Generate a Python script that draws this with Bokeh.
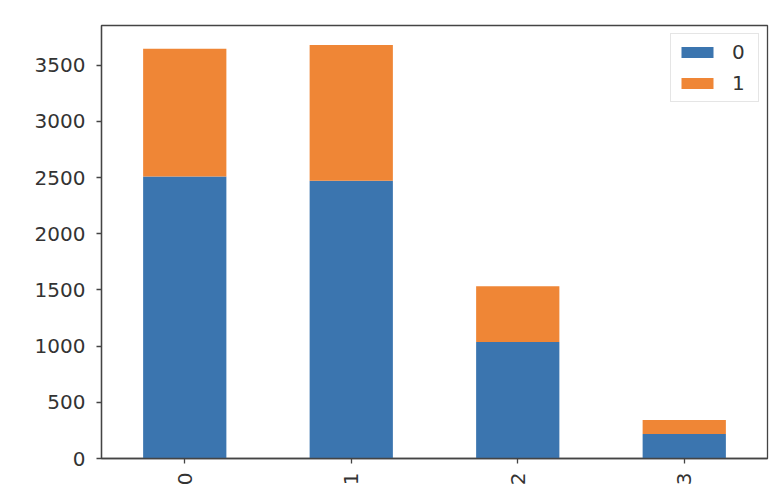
import math
from bokeh.plotting import figure
from bokeh.models import Range1d, FactorRange, FixedTicker, Legend, LegendItem, ColumnDataSource
from bokeh.embed import file_html
from bokeh.resources import INLINE

categories = ["0", "1", "2", "3"]
series_names = ["0", "1"]
values_0 = [2510, 2472, 1036, 217]
values_1 = [1137, 1208, 497, 125]
y_ticks = [0, 500, 1000, 1500, 2000, 2500, 3000, 3500]
colors = ["#3b75af", "#ef8636"]

totals = [a + b for a, b in zip(values_0, values_1)]

src = ColumnDataSource(dict(cat=categories, s0=values_0, s1=values_1))

p = figure(
    x_range=FactorRange(*categories),
    y_range=Range1d(0, max(totals) * 1.047),
    width=772, height=492,
    output_backend="svg", toolbar_location=None,
    min_border_left=101, min_border_right=5, min_border_top=25, min_border_bottom=34,
)

rs = p.vbar_stack(["s0", "s1"], x="cat", width=0.5, source=src,
                  color=colors, line_color=None)

p.xgrid.visible = False
p.ygrid.visible = False
p.background_fill_color = "white"
p.border_fill_color = "white"
p.outline_line_color = "#444444"
p.outline_line_width = 1.3

font = "DejaVu Sans"
for ax in (p.xaxis[0], p.yaxis[0]):
    ax.axis_line_color = "#444444"
    ax.axis_line_width = 1.3
    ax.major_tick_line_color = "#444444"
    ax.major_tick_line_width = 1.3
    ax.major_tick_out = 5
    ax.major_tick_in = 0
    ax.minor_tick_line_color = None
    ax.major_label_text_font = font
    ax.major_label_text_font_size = "20px"
    ax.major_label_text_color = "#333333"

p.yaxis[0].ticker = FixedTicker(ticks=y_ticks)
p.yaxis[0].major_label_standoff = 11
p.xaxis[0].major_label_orientation = math.pi / 2
p.xaxis[0].major_label_standoff = 9

legend = Legend(
    items=[LegendItem(label=series_names[i], renderers=[rs[i]]) for i in range(2)],
    location="top_right",
    margin=8,
    padding=6,
    spacing=7,
    glyph_width=40,
    glyph_height=14,
    label_standoff=15,
    label_text_font=font,
    label_text_font_size="20px",
    label_text_color="#333333",
    border_line_color="#cccccc",
    border_line_width=1,
    background_fill_alpha=0.8,
)
p.add_layout(legend)

open("out.html", "w").write(file_html(p, INLINE))
